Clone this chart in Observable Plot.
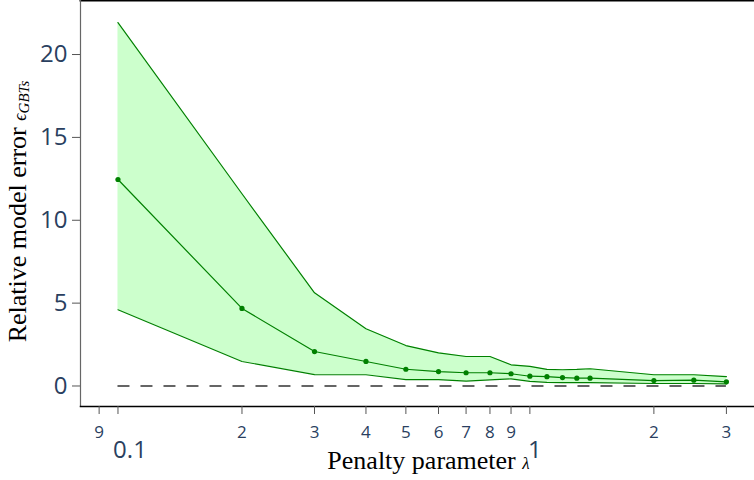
<!DOCTYPE html>
<html>
<head>
<meta charset="utf-8">
<script src="https://cdn.jsdelivr.net/npm/d3@7"></script>
<script src="https://cdn.jsdelivr.net/npm/@observablehq/plot@0.6"></script>
<style>
  html, body { margin: 0; padding: 0; background: #fff; }
  #chart svg { display: block; }
</style>
</head>
<body>
<div id="chart"></div>
<script>
// Penalty parameter values (x)
const lambdas = [0.1, 0.2, 0.3, 0.4, 0.5, 0.6, 0.7, 0.8, 0.9, 1.0, 1.1, 1.2, 1.3, 1.4, 2.0, 2.5, 3.0];
// Mean relative model error
const meanErr = [12.46, 4.68, 2.08, 1.48, 1.01, 0.87, 0.80, 0.80, 0.74, 0.59, 0.56, 0.51, 0.47, 0.47, 0.33, 0.35, 0.25];
// Upper band
const upperErr = [21.93, 11.6, 5.62, 3.45, 2.44, 2.00, 1.78, 1.78, 1.28, 1.18, 1.00, 0.98, 1.00, 1.04, 0.68, 0.68, 0.56];
// Lower band
const lowerErr = [4.60, 1.48, 0.69, 0.68, 0.39, 0.39, 0.29, 0.37, 0.43, 0.28, 0.22, 0.20, 0.20, 0.20, 0.15, 0.15, 0.13];
// Reference level
const refLevel = [0];

// Axis ticks
const yTicks = [0, 5, 10, 15, 20];
const xMinorTicks = [0.09, 0.2, 0.3, 0.4, 0.5, 0.6, 0.7, 0.8, 0.9, 2, 3];
const xMinorLabels = ["9", "2", "3", "4", "5", "6", "7", "8", "9", "2", "3"];
const xMajorTicks = [0.1, 1];
const xMajorLabels = ["0.1", "1"];

const xTitle = "Penalty parameter";
const xTitleSym = "λ";
const yTitle = "Relative model error";
const yTitleSym = "ϵ";
const yTitleSub = "GBTs";

const rows = lambdas.map((x, i) => ({x, mean: meanErr[i], upper: upperErr[i], lower: lowerErr[i]}));
const minorRows = xMinorTicks.map((x, i) => ({x, label: xMinorLabels[i]}));

const tickColor = "#2a3f5f";
const sans = "'Open Sans', sans-serif";
const serif = "'Liberation Serif', 'Times New Roman', serif";

const chart = Plot.plot({
  width: 754,
  height: 480,
  marginLeft: 80,
  marginRight: 0,
  marginTop: 0,
  marginBottom: 74,
  style: {fontFamily: sans, background: "#fff", overflow: "visible"},
  x: {type: "log", domain: [0.0811, 3.51], axis: null},
  y: {domain: [-1.237, 23.26], axis: null},
  marks: [
    Plot.areaY(rows, {x: "x", y1: "lower", y2: "upper", fill: "#ccffcc"}),
    Plot.lineY(rows, {x: "x", y: "upper", stroke: "green", strokeWidth: 1.2}),
    Plot.lineY(rows, {x: "x", y: "lower", stroke: "green", strokeWidth: 1.2}),
    Plot.lineY(rows, {x: "x", y: "mean", stroke: "green", strokeWidth: 1.2}),
    Plot.dot(rows, {x: "x", y: "mean", r: 2.6, fill: "green", stroke: null}),
    Plot.ruleY(refLevel, {x1: [lambdas[0]], x2: [lambdas[lambdas.length - 1]], stroke: "#333", strokeWidth: 1.5, strokeDasharray: "12,11"}),
    // frame lines
    Plot.frame({anchor: "top", stroke: "#000", strokeWidth: 2}),
    Plot.frame({anchor: "left", stroke: "#666", strokeWidth: 1.2}),
    Plot.frame({anchor: "bottom", stroke: "#000", strokeWidth: 1.5}),
    // y axis
    Plot.axisY({ticks: yTicks, tickSize: 8, text: null, label: null, stroke: "#555", strokeWidth: 1}),
    Plot.axisY({ticks: yTicks, tickSize: 8, tickPadding: 5, fontSize: 24, fill: tickColor, stroke: "none", label: null, tickFormat: d => String(d)}),
    // x axis ticks
    Plot.axisX({ticks: [...xMinorTicks, ...xMajorTicks], tickSize: 8, text: null, label: null, stroke: "#555", strokeWidth: 1}),
    Plot.text(minorRows, {x: "x", text: "label", frameAnchor: "bottom", dy: 31, lineAnchor: "bottom", textAnchor: "middle", fontSize: 17, fill: tickColor}),
    Plot.text([0], {x: () => xMajorTicks[0], text: () => xMajorLabels[0], frameAnchor: "bottom", dy: 51, dx: 12, lineAnchor: "bottom", textAnchor: "middle", fontSize: 24, fill: tickColor}),
    Plot.text([0], {x: () => xMajorTicks[1], text: () => xMajorLabels[1], frameAnchor: "bottom", dy: 51, dx: 5, lineAnchor: "bottom", textAnchor: "middle", fontSize: 24, fill: tickColor}),
    // titles
    Plot.text([xTitle], {frameAnchor: "bottom", dx: 11, dy: 62, lineAnchor: "bottom", textAnchor: "middle", text: d => d, fontSize: 26, fontFamily: serif, fill: "#000", className: "xtitle"}),
    Plot.text([yTitle], {frameAnchor: "left", dx: -55, dy: 8, rotate: -90, lineAnchor: "bottom", textAnchor: "middle", text: d => d, fontSize: 26, fontFamily: serif, fill: "#000", className: "ytitle"})
  ]
});

document.getElementById("chart").appendChild(chart);

// add math symbols as tspans
const svg = d3.select(chart);
svg.selectAll(".xtitle text").each(function() {
  const t = d3.select(this);
  t.text(null);
  t.append("tspan").text(xTitle + " ");
  t.append("tspan").attr("font-size", 17).attr("font-style", "italic").text(xTitleSym);
});
svg.selectAll(".ytitle text").each(function() {
  const t = d3.select(this);
  t.text(null);
  t.append("tspan").text(yTitle + " ");
  t.append("tspan").attr("font-size", 18).attr("font-style", "italic").text(yTitleSym);
  t.append("tspan").attr("font-size", 15).attr("font-style", "italic").attr("dy", 3).text(yTitleSub);
});
</script>
</body>
</html>
